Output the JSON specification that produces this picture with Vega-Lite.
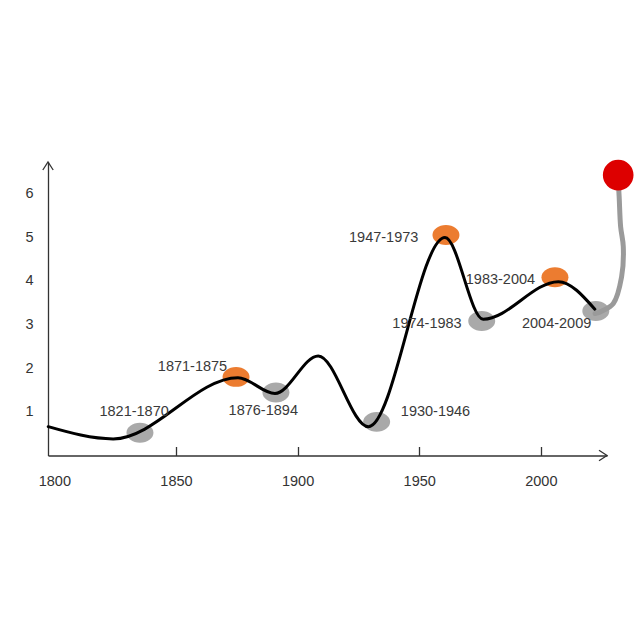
{
  "$schema": "https://vega.github.io/schema/vega-lite/v6.json",
  "width": 559,
  "height": 293.5,
  "autosize": "none",
  "padding": {"left": 48, "top": 162, "right": 33, "bottom": 184.5},
  "background": "white",
  "config": {"view": {"stroke": null}, "font": "Liberation Sans"},
  "datasets": {
    "curve": [
      {"year": 1797.5, "value": 0.66},
      {"year": 1824.2, "value": 0.38},
      {"year": 1875.5, "value": 1.78},
      {"year": 1890.7, "value": 1.42},
      {"year": 1908.5, "value": 2.28},
      {"year": 1929.1, "value": 0.66},
      {"year": 1960.6, "value": 4.99},
      {"year": 1976.3, "value": 3.12},
      {"year": 2007.2, "value": 3.98},
      {"year": 2022.2, "value": 3.35}
    ],
    "markers": [
      {"period": "1821-1870", "kind": "low", "year": 1835.2, "value": 0.52, "lx": 1832.8, "ly": 1.00},
      {"period": "1871-1875", "kind": "high", "year": 1874.7, "value": 1.80, "lx": 1856.8, "ly": 2.03},
      {"period": "1876-1894", "kind": "low", "year": 1891.1, "value": 1.44, "lx": 1885.9, "ly": 1.02},
      {"period": "1930-1946", "kind": "low", "year": 1932.5, "value": 0.77, "lx": 1956.7, "ly": 1.00},
      {"period": "1947-1973", "kind": "high", "year": 1961.0, "value": 5.05, "lx": 1935.4, "ly": 4.99},
      {"period": "1974-1983", "kind": "low", "year": 1975.7, "value": 3.08, "lx": 1953.2, "ly": 3.01},
      {"period": "1983-2004", "kind": "high", "year": 2005.8, "value": 4.08, "lx": 1983.4, "ly": 4.02},
      {"period": "2004-2009", "kind": "low", "year": 2022.6, "value": 3.31, "lx": 2006.5, "ly": 3.01}
    ],
    "path": [
      {"i": 0, "year": 2022.3, "value": 3.25},
      {"i": 1, "year": 2025.2, "value": 3.31},
      {"i": 2, "year": 2029.8, "value": 3.48},
      {"i": 3, "year": 2033.2, "value": 4.09},
      {"i": 4, "year": 2033.9, "value": 4.78},
      {"i": 5, "year": 2032.8, "value": 5.24},
      {"i": 6, "year": 2032.2, "value": 5.92},
      {"i": 7, "year": 2031.8, "value": 6.30}
    ],
    "target": [
      {"year": 2031.8, "value": 6.42}
    ]
  },
  "layer": [
    {
      "data": {"name": "markers"},
      "mark": {"type": "point", "shape": "M -1 0 A 1 0.74 0 1 0 1 0 A 1 0.74 0 1 0 -1 0 Z", "size": 729, "filled": true, "opacity": 1, "strokeWidth": 0},
      "encoding": {
        "x": {
          "field": "year", "type": "quantitative", "title": null,
          "scale": {"domain": [1797.4, 2027.2], "nice": false, "zero": false},
          "axis": {
            "values": [1800, 1850, 1900, 1950, 2000],
            "format": "d",
            "grid": false,
            "domainColor": "#333333",
            "domainWidth": 1.3,
            "tickColor": "#333333",
            "tickWidth": 1.3,
            "tickSize": -9,
            "tickOpacity": {"condition": {"test": "datum.value === 1800", "value": 0}, "value": 1},
            "labelPadding": 28,
            "labelFontSize": 14.5,
            "labelFont": "Liberation Sans",
            "labelColor": "#333333",
            "labelFlush": false,
            "labelOverlap": false
          }
        },
        "y": {
          "field": "value", "type": "quantitative", "title": null,
          "scale": {"domain": [0, 6.72], "nice": false, "zero": false},
          "axis": {
            "values": [1, 2, 3, 4, 5, 6],
            "grid": false,
            "ticks": false,
            "domainColor": "#333333",
            "domainWidth": 1.3,
            "labelPadding": 15,
            "labelFontSize": 14.5,
            "labelFont": "Liberation Sans",
            "labelColor": "#333333",
            "labelFlush": false
          }
        },
        "color": {"field": "kind", "type": "nominal", "legend": null, "scale": {"domain": ["high", "low"], "range": ["#ec7c30", "#a9a9a9"]}}
      }
    },
    {
      "data": {"name": "curve"},
      "mark": {"type": "line", "interpolate": "monotone", "color": "#000000", "strokeWidth": 3, "strokeCap": "round"},
      "encoding": {
        "x": {"field": "year", "type": "quantitative", "title": null},
        "y": {"field": "value", "type": "quantitative", "title": null}
      }
    },
    {
      "data": {"name": "path"},
      "mark": {"type": "line", "interpolate": "catmull-rom", "color": "#9a9a9a", "strokeWidth": 5, "strokeCap": "round"},
      "encoding": {
        "x": {"field": "year", "type": "quantitative", "title": null},
        "y": {"field": "value", "type": "quantitative", "title": null},
        "order": {"field": "i", "type": "quantitative"}
      }
    },
    {
      "data": {"name": "target"},
      "mark": {"type": "circle", "size": 940, "color": "#dd0000", "opacity": 1},
      "encoding": {
        "x": {"field": "year", "type": "quantitative", "title": null},
        "y": {"field": "value", "type": "quantitative", "title": null}
      }
    },
    {
      "data": {"name": "markers"},
      "mark": {"type": "text", "fontSize": 14.5, "font": "Liberation Sans", "color": "#3a3a3a", "align": "center", "baseline": "middle"},
      "encoding": {
        "x": {"field": "lx", "type": "quantitative", "title": null},
        "y": {"field": "ly", "type": "quantitative", "title": null},
        "text": {"field": "period", "type": "nominal"}
      }
    },
    {
      "data": {"values": [{}]},
      "mark": {"type": "point", "shape": "M -1 -0.65 L 0 0 L -1 0.65", "size": 256, "filled": false, "stroke": "#333333", "strokeWidth": 1.3, "opacity": 1},
      "encoding": {
        "x": {"datum": 2027.2, "type": "quantitative", "title": null},
        "y": {"datum": 0, "type": "quantitative", "title": null}
      }
    },
    {
      "data": {"values": [{}]},
      "mark": {"type": "point", "shape": "M -0.65 1 L 0 0 L 0.65 1", "size": 256, "filled": false, "stroke": "#333333", "strokeWidth": 1.3, "opacity": 1},
      "encoding": {
        "x": {"datum": 1797.4, "type": "quantitative", "title": null},
        "y": {"datum": 6.72, "type": "quantitative", "title": null}
      }
    }
  ]
}
